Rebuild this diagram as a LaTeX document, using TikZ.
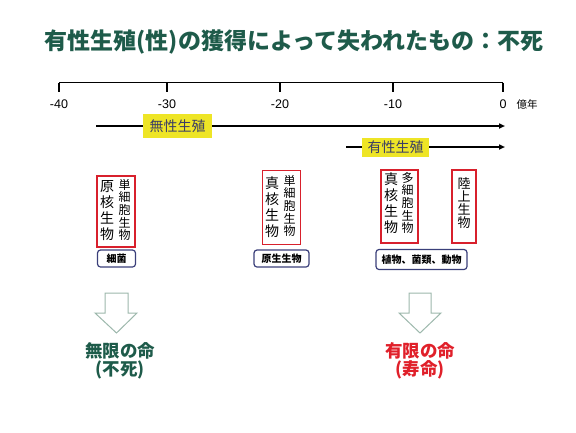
\documentclass[tikz,border=0pt]{standalone}
\usepackage{fontspec}
\setmainfont{Liberation Sans}
\newfontfamily\cjk{Noto Sans CJK JP}
\usetikzlibrary{arrows.meta}
\definecolor{ttlgreen}{HTML}{1E5B4A}
\definecolor{boxred}{HTML}{D8202C}
\definecolor{boxblue}{HTML}{3A3F7A}
\definecolor{lblyellow}{HTML}{EEE526}
\definecolor{lbltext}{HTML}{3A3D66}
\definecolor{arrowgray}{HTML}{9DB8AC}
\definecolor{lifered}{HTML}{E0202A}
\tikzset{
  axisline/.style={line width=1.2pt, black},
  timearrow/.style={line width=1.6pt, black, -{Triangle[length=6pt,width=5pt]}},
  ticklbl/.style={font=\fontsize{12.5}{14}\selectfont, inner sep=0pt},
  yellowlbl/.style={fill=lblyellow, text=lbltext, inner sep=0pt, font=\cjk\fontsize{14}{16}\selectfont},
  redbox/.style={draw=boxred, line width=1.3pt, inner sep=0pt},
  bigcol/.style={align=center, inner sep=0pt, font=\cjk\fontsize{14}{16}\selectfont},
  smallcol/.style={align=center, inner sep=0pt, font=\cjk\fontsize{12}{12.7}\selectfont},
  bluebox/.style={draw=boxblue, line width=1.2pt, rounded corners=3pt, inner sep=0pt, font=\cjk\bfseries\fontsize{10}{11}\selectfont},
  downarrow/.style={draw=arrowgray, line width=1pt, fill=white},
  lifetext/.style={align=center, inner sep=0pt, font=\cjk\bfseries\fontsize{17.5}{18}\selectfont},
}
\begin{document}
\begin{tikzpicture}[x=1pt,y=-1pt]
\useasboundingbox (0,0) rectangle (576,432);

% title
\node[text=ttlgreen, font=\cjk\bfseries\fontsize{23}{25}\selectfont, inner sep=0pt] (title) at (294,42) {有性生殖(性)の獲得によって失われたもの：不死};

% axis
\coordinate (a40) at (59,82.5);
\coordinate (a0) at (503,82.5);
\draw[axisline] (a40) -- (a0);
\foreach \x/\l/\n in {59/-40/t40,167/-30/t30,280/-20/t20,393/-10/t10,503/0/t0}{
  \coordinate (tk\n) at (\x,82.5);
  \coordinate (tb\n) at (\x,92);
  \draw[axisline] (tk\n) -- (tb\n);
  \node[ticklbl] (lbl\n) at (\x,104) {\l};
}
\node[font=\cjk\fontsize{10.5}{12}\selectfont, inner sep=0pt] (unit) at (527,104.5) {億年};

% time arrows
\coordinate (s1) at (96,126);
\coordinate (e1) at (505,126);
\draw[timearrow] (s1) -- (e1);
\node[yellowlbl, minimum width=69pt, minimum height=24pt] (asex) at (177.5,126) {無性生殖};
\coordinate (s2) at (346,147);
\coordinate (e2) at (505,147);
\draw[timearrow] (s2) -- (e2);
\node[yellowlbl, minimum width=67pt, minimum height=19pt] (sex) at (395.5,147.5) {有性生殖};

% red boxes
\node[redbox, minimum width=38pt, minimum height=71pt] (b1) at (116,211.5) {};
\node[bigcol] (b1l) at (107,211) {原\\核\\生\\物};
\node[smallcol] (b1r) at (124.5,210) {単\\細\\胞\\生\\物};

\node[redbox, minimum width=38pt, minimum height=74pt] (b2) at (281.5,207.5) {};
\node[bigcol] (b2l) at (272,207) {真\\核\\生\\物};
\node[smallcol] (b2r) at (289.5,206) {単\\細\\胞\\生\\物};

\node[redbox, minimum width=37pt, minimum height=73pt] (b3) at (399.5,206.5) {};
\node[bigcol] (b3l) at (391,203) {真\\核\\生\\物};
\node[smallcol] (b3r) at (407.5,203) {多\\細\\胞\\生\\物};

\node[redbox, minimum width=24pt, minimum height=73pt] (b4) at (464,206.5) {};
\node[bigcol, font=\cjk\fontsize{13}{13}\selectfont] (b4t) at (464,203) {陸\\上\\生\\物};

% blue boxes
\node[bluebox, minimum width=38pt, minimum height=17pt] (c1) at (116.5,258.5) {細菌};
\node[bluebox, minimum width=55pt, minimum height=17pt] (c2) at (281.5,258.5) {原生生物};
\node[bluebox, minimum width=91pt, minimum height=20pt] (c3) at (421.5,259.5) {植物、菌類、動物};

% down arrows
\draw[downarrow] (105,293) -- (128,293) -- (128,313) -- (137,313) -- (116.5,333) -- (95,313) -- (105,313) -- cycle;
\draw[downarrow] (409,293) -- (431,293) -- (431,313) -- (441,313) -- (420,333) -- (399,313) -- (409,313) -- cycle;

% results
\node[lifetext, text=ttlgreen] (inf1) at (120,351) {無限の命};
\node[lifetext, text=ttlgreen] (inf2) at (120,370) {(不死)};
\node[lifetext, text=lifered] (fin1) at (420,351) {有限の命};
\node[lifetext, text=lifered] (fin2) at (420,370) {(寿命)};
\end{tikzpicture}
\end{document}
